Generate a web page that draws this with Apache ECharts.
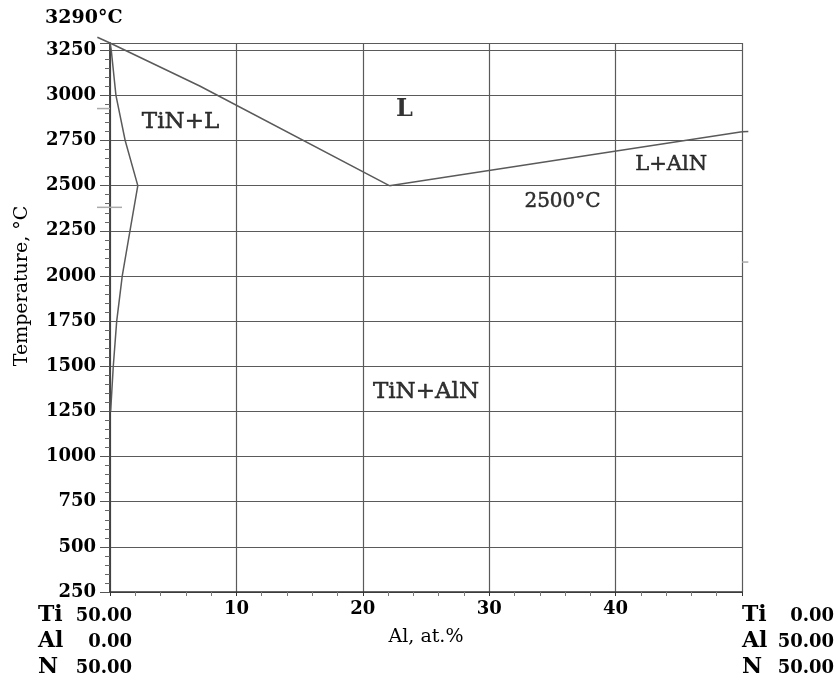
<!DOCTYPE html>
<html>
<head>
<meta charset="utf-8">
<script src="https://cdn.jsdelivr.net/npm/echarts@6/dist/echarts.min.js"></script>
<style>
  html, body { margin: 0; padding: 0; background: #fff; }
  #chart { width: 838px; height: 681px; }
</style>
</head>
<body>
<div id="chart"></div>
<script>
// Ti–Al–N isopleth along TiN–AlN: composition (Al, at.%) vs temperature (°C)

// Liquidus on the TiN side, falling to the eutectic
const liquidusTiN = [[0, 3290], [7.1, 3052], [22.1, 2500]];
// Liquidus on the AlN side, rising from the eutectic
const liquidusAlN = [[22.1, 2500], [50, 2798]];
// Solubility boundary of the TiN phase
const solvusTiN = [[0, 3290], [0.1, 3250], [0.47, 3000], [1.2, 2750], [2.2, 2500],
                   [1.58, 2250], [0.97, 2000], [0.53, 1750], [0.26, 1500], [0.05, 1250]];
// Liquidus stubs running past the frame
const liquidusStubs = [
  [[-1.0, 3322], [0, 3290]],
  [[50, 2798], [50.5, 2800]]
];
// Short reference marks along the frame
const frameMarks = [
  [[-1.03, 2927], [0, 2927]],
  [[-1.03, 2380], [0.95, 2380]],
  [[50, 2077], [50.5, 2077]]
];

// Phase-field labels [Al, T]
const regionNames = ['TiN+L', 'L', 'L+AlN', '2500°C', 'TiN+AlN'];
const regionPos = [[5.58, 2850], [23.3, 2920], [44.4, 2615], [35.8, 2412], [25.0, 1356]];

// Axis ranges
const tempMin = 250, tempMax = 3290, tempStep = 250;
const alMin = 0, alMax = 50, alStep = 10;

// Composition at the two ends of the section
const leftEnd = [['Ti', '50.00'], ['Al', '0.00'], ['N', '50.00']];
const rightEnd = [['Ti', '0.00'], ['Al', '50.00'], ['N', '50.00']];

const serif = '"DejaVu Serif", serif';
const lineColor = '#5a5a5a';

const chart = echarts.init(document.getElementById('chart'), null, { renderer: 'canvas' });

const lineSeries = (data) => ({
  type: 'line',
  data: data,
  showSymbol: false,
  symbol: 'none',
  silent: true,
  lineStyle: { color: lineColor, width: 1.5 },
  z: 5
});

const regionStyle = {
  'TiN+L':   { fontSize: 23, fontWeight: 'normal' },
  'L':       { fontSize: 24, fontWeight: 'bold' },
  'L+AlN':   { fontSize: 21, fontWeight: 'normal' },
  '2500°C':  { fontSize: 20, fontWeight: 'normal' },
  'TiN+AlN': { fontSize: 23, fontWeight: 'normal' }
};

const labelSeries = {
  type: 'scatter',
  symbolSize: 0,
  silent: true,
  data: regionNames.map((n, i) => ({
    name: n,
    value: regionPos[i],
    label: {
      show: true,
      position: 'inside',
      formatter: n,
      color: '#000',
      fontFamily: serif,
      fontSize: regionStyle[n].fontSize,
      fontWeight: regionStyle[n].fontWeight,
      textBorderColor: '#000',
      textBorderWidth: regionStyle[n].fontWeight === 'bold' ? 0 : 0.5
    }
  })),
  z: 10
};

// Text blocks under the two ends of the composition axis
const endText = [];
const rowY = [615, 641, 667];
function addEnd(rows, symX, numX) {
  rows.forEach((r, i) => {
    endText.push({
      type: 'text',
      style: { x: symX, y: rowY[i], text: r[0], fill: '#000',
               font: 'bold 22px ' + serif, textAlign: 'left', textVerticalAlign: 'middle' }
    });
    endText.push({
      type: 'text',
      style: { x: numX, y: rowY[i] + 1, text: r[1], fill: '#000',
               font: 'bold 18px ' + serif, textAlign: 'right', textVerticalAlign: 'middle' }
    });
  });
}
addEnd(leftEnd, 38, 132);
addEnd(rightEnd, 742, 834);

const option = {
  backgroundColor: '#fff',
  animation: false,
  grid: { left: 110, right: 96, top: 43, bottom: 89, containLabel: false },
  xAxis: [{
    type: 'value',
    min: alMin, max: alMax, interval: alStep,
    name: 'Al, at.%',
    nameLocation: 'middle',
    nameGap: 36,
    nameTextStyle: { fontFamily: serif, fontSize: 19, color: '#000' },
    axisLine: { show: true, lineStyle: { color: '#333', width: 1.5 } },
    axisTick: { show: true, length: 4, lineStyle: { color: '#333' } },
    minorTick: { show: true, splitNumber: 5, length: 4, lineStyle: { color: '#777' } },
    axisLabel: {
      margin: 8,
      fontFamily: serif, fontSize: 18, fontWeight: 'bold', color: '#000',
      formatter: v => (v === alMin || v === alMax) ? '' : String(v)
    },
    splitLine: { show: true, lineStyle: { color: lineColor, width: 1.2 } }
  }, {
    type: 'value',
    position: 'top',
    min: alMin, max: alMax,
    axisLine: { show: true, lineStyle: { color: lineColor, width: 1.2 } },
    axisTick: { show: false }, axisLabel: { show: false }, splitLine: { show: false }
  }],
  yAxis: [{
    type: 'value',
    min: tempMin, max: tempMax, interval: tempStep,
    axisLine: { show: true, lineStyle: { color: '#333', width: 1.5 } },
    axisTick: { show: true, length: 10, lineStyle: { color: '#555' } },
    minorTick: { show: true, splitNumber: 5, length: 5, lineStyle: { color: '#666' } },
    axisLabel: {
      margin: 14,
      fontFamily: serif, fontSize: 18, fontWeight: 'bold', color: '#000',
      formatter: v => (v === tempMax) ? '' : String(v)
    },
    splitLine: { show: true, lineStyle: { color: lineColor, width: 1.2 } }
  }, {
    type: 'value',
    position: 'right',
    min: tempMin, max: tempMax,
    axisLine: { show: true, lineStyle: { color: '#444', width: 1.5 } },
    axisTick: { show: false }, axisLabel: { show: false }, splitLine: { show: false }
  }],
  series: [
    lineSeries(liquidusTiN),
    lineSeries(liquidusAlN),
    lineSeries(solvusTiN),
    labelSeries
  ]
};

chart.setOption(option);

// Pieces that sit outside the plotting frame, placed through the axis scales
const toPx = p => chart.convertToPixel({ gridIndex: 0 }, p);
const segs = (list, color) => list.map(seg => ({
  type: 'polyline',
  silent: true,
  z: 6,
  shape: { points: seg.map(toPx) },
  style: { stroke: color, lineWidth: 1.5, fill: null }
}));

chart.setOption({
  graphic: [
    {
      type: 'text',
      style: { x: 45, y: 18, text: '3290°C', fill: '#000',
               font: 'bold 19px ' + serif, textAlign: 'left', textVerticalAlign: 'middle' }
    },
    {
      type: 'text',
      x: 22, y: 286, rotation: Math.PI / 2,
      style: { x: 0, y: 0, text: 'Temperature, °C', fill: '#000',
               font: '19px ' + serif, textAlign: 'center', textVerticalAlign: 'middle' }
    }
  ].concat(endText, segs(liquidusStubs, lineColor), segs(frameMarks, '#aaaaaa'))
});
</script>
</body>
</html>
